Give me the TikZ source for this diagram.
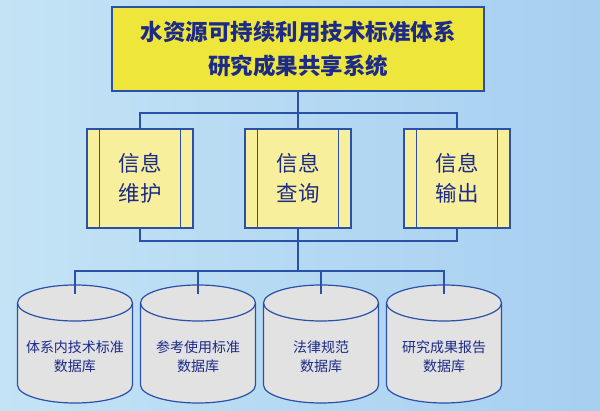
\documentclass[tikz,border=0pt]{standalone}
\usepackage{fontspec}
\setmainfont{Noto Sans CJK SC}
\usepackage{tikz}

\definecolor{bgleft}{HTML}{C4E3F5}
\definecolor{bgright}{HTML}{A6CFF0}
\definecolor{linkblue}{HTML}{2A50A8}
\definecolor{txtblue}{HTML}{1C2A88}
\definecolor{topyellow}{HTML}{EFE63C}
\definecolor{boxyellow}{HTML}{F8EF9C}
\definecolor{dbgray}{HTML}{E2E2E2}

\tikzset{
  link/.style={draw=linkblue,line width=1.2pt},
  topbox/.style={draw=linkblue,line width=1.2pt,fill=topyellow,
    minimum width=372pt,minimum height=84pt,align=center,
    text=txtblue,font=\fontsize{22.5}{34}\selectfont\bfseries},
  funcbox/.style={draw=linkblue,line width=1.2pt,fill=boxyellow,
    minimum width=106pt,minimum height=99pt,align=center,
    text=txtblue,font=\fontsize{21.5}{30}\selectfont},
  dbtext/.style={align=center,text=txtblue,font=\fontsize{14}{19}\selectfont}
}

\begin{document}
\begin{tikzpicture}[x=1pt,y=1pt]
    % background
    \shade[left color=bgleft,right color=bgright] (0,0) rectangle (600,410);
    \useasboundingbox (0,0) rectangle (600,410);

    % top system box
    \node[topbox] (sys) at (298,361) {水资源可持续利用技术标准体系\\研究成果共享系统};

    % three function boxes
    \foreach \n/\x/\t in {wh/140/维护,cx/298/查询,sc/457/输出}{
        \node[funcbox] (\n) at (\x,231.5) {信息\\\t};
        \draw[linkblue,line width=1.2pt] ([xshift=13pt]\n.north west) -- ([xshift=13pt]\n.south west);
        \draw[linkblue,line width=1.2pt] ([xshift=-13pt]\n.north east) -- ([xshift=-13pt]\n.south east);
    }

    % four databases
    \foreach \n/\x/\t in {d1/75/体系内技术标准,d2/198/参考使用标准,d3/321/法律规范,d4/444/研究成果报告}{
        \filldraw[fill=dbgray,draw=linkblue,line width=1.2pt]
            (\x-57.5,107) -- (\x-57.5,25) arc (180:360:57.5 and 18)
            -- (\x+57.5,107) arc (0:180:57.5 and 18) -- cycle;
        \draw[linkblue,line width=1.2pt] (\x-57.5,107) arc (180:360:57.5 and 18);
        \coordinate (\n-top) at (\x,116);
        \node[dbtext] (\n) at (\x,53.5) {\t\\数据库};
    }

    % links
    \coordinate (bus1) at (298,297);
    \coordinate (bus2) at (298,169);
    \coordinate (bus3) at (298,139);
    \draw[link] (sys.south) -- (bus1);
    \draw[link] (wh.north) |- (bus1) -| (sc.north);
    \draw[link] (cx.north) -- (bus1);
    \draw[link] (wh.south) |- (bus2) -| (sc.south);
    \draw[link] (cx.south) -- (bus2) -- (bus3);
    \draw[link] (d1-top) |- (bus3) -| (d4-top);
    \draw[link] (d2-top) |- (bus3);
    \draw[link] (d3-top) |- (bus3);
\end{tikzpicture}
\end{document}
